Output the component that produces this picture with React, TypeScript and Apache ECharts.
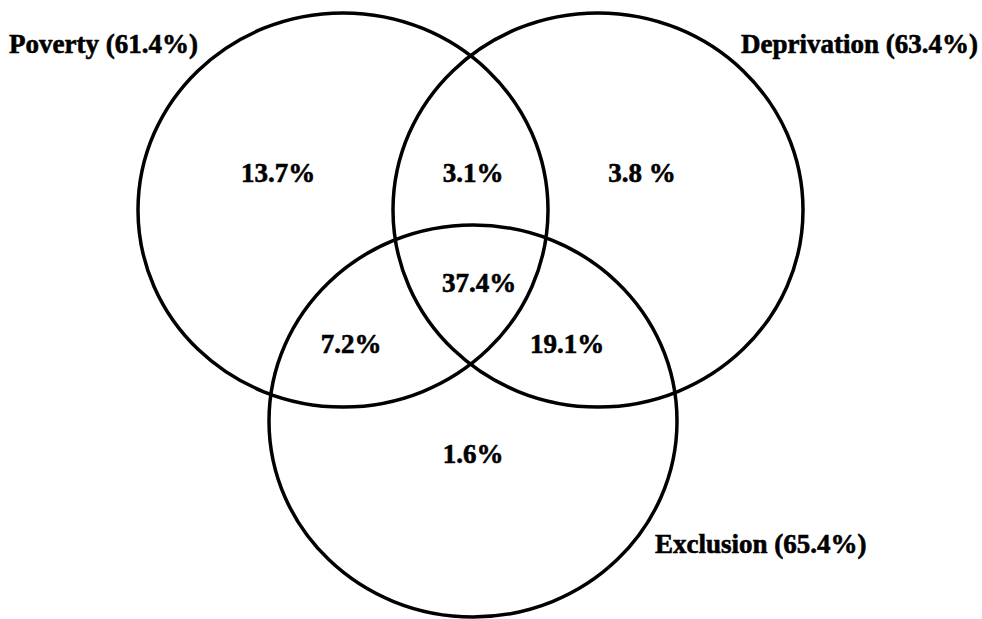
import React, { useEffect, useRef } from "react";
import * as echarts from "echarts";

// Set names and totals (share of population, %)
const setNames = ["Poverty", "Deprivation", "Exclusion"];
const setTotals = [61.4, 63.4, 65.4];

// Region shares (%) and their printed labels
const regionNames = [
  "Poverty only",
  "Poverty & Deprivation",
  "Deprivation only",
  "All three",
  "Poverty & Exclusion",
  "Deprivation & Exclusion",
  "Exclusion only",
];
const regionValues = [13.7, 3.1, 3.8, 37.4, 7.2, 19.1, 1.6];
const regionLabels = ["13.7%", "3.1%", "3.8 %", "37.4%", "7.2%", "19.1%", "1.6%"];

// Layout (pixel-space coordinates on a hidden 982x619 axis)
const circleLayout = [
  { cx: 343, cy: 210, rx: 205, ry: 197 },
  { cx: 598, cy: 210, rx: 205, ry: 197 },
  { cx: 473, cy: 421, rx: 204, ry: 196 },
];
const setLabelLayout = [
  { x: 9, y: 44 },
  { x: 741, y: 44 },
  { x: 655, y: 544 },
];
const regionLabelLayout = [
  { x: 278, y: 173 },
  { x: 473, y: 173 },
  { x: 642, y: 173 },
  { x: 479, y: 283 },
  { x: 351, y: 344 },
  { x: 567, y: 344 },
  { x: 473, y: 454 },
];

const FONT = "Liberation Serif";

const labelStyle = {
  show: true,
  position: "inside",
  verticalAlign: "middle",
  color: "#000",
  opacity: 1,
  fontFamily: FONT,
  fontWeight: "bold",
  fontSize: 27,
  textBorderColor: "#000",
  textBorderWidth: 0.6,
};

export default function App() {
  const ref = useRef<HTMLDivElement>(null);
  useEffect(() => {
    document.body.style.margin = "0";
    const chart = echarts.init(ref.current!, undefined, { renderer: "svg" });
    const circleData = circleLayout.map((c, i) => ({
      name: setNames[i],
      value: [c.cx, c.cy, c.rx, c.ry],
    }));
    const setLabelData = setLabelLayout.map((p, i) => ({
      name: setNames[i],
      value: [p.x, p.y],
      label: { formatter: `${setNames[i]} (${setTotals[i]}%)` },
    }));
    const regionData = regionLabelLayout.map((p, i) => ({
      name: regionNames[i],
      value: [p.x, p.y, regionValues[i]],
      label: { formatter: regionLabels[i] },
    }));
    chart.setOption({
      animation: false,
      grid: { left: 0, right: 0, top: 0, bottom: 0 },
      xAxis: { type: "value", min: 0, max: 982, show: false },
      yAxis: { type: "value", min: 0, max: 619, inverse: true, show: false },
      series: [
        {
          type: "custom",
          data: circleData,
          silent: true,
          renderItem: (params: any, api: any) => {
            const c = api.coord([api.value(0), api.value(1)]);
            const s = api.size([api.value(2), api.value(3)]);
            return {
              type: "ellipse",
              shape: { cx: c[0], cy: c[1], rx: s[0], ry: s[1] },
              style: { fill: "none", stroke: "#000", lineWidth: 3.5 },
            };
          },
        },
        {
          type: "scatter",
          symbolSize: 0,
          data: setLabelData,
          silent: true,
          itemStyle: { opacity: 1 },
          label: { ...labelStyle, align: "left" },
        },
        {
          type: "scatter",
          symbolSize: 0,
          data: regionData,
          silent: true,
          itemStyle: { opacity: 1 },
          label: { ...labelStyle, align: "center" },
        },
      ],
    });
    return () => chart.dispose();
  }, []);
  return (
    <div
      ref={ref}
      style={{ width: 982, height: 619, position: "absolute", left: 0, top: 0, background: "#fff" }}
    />
  );
}
